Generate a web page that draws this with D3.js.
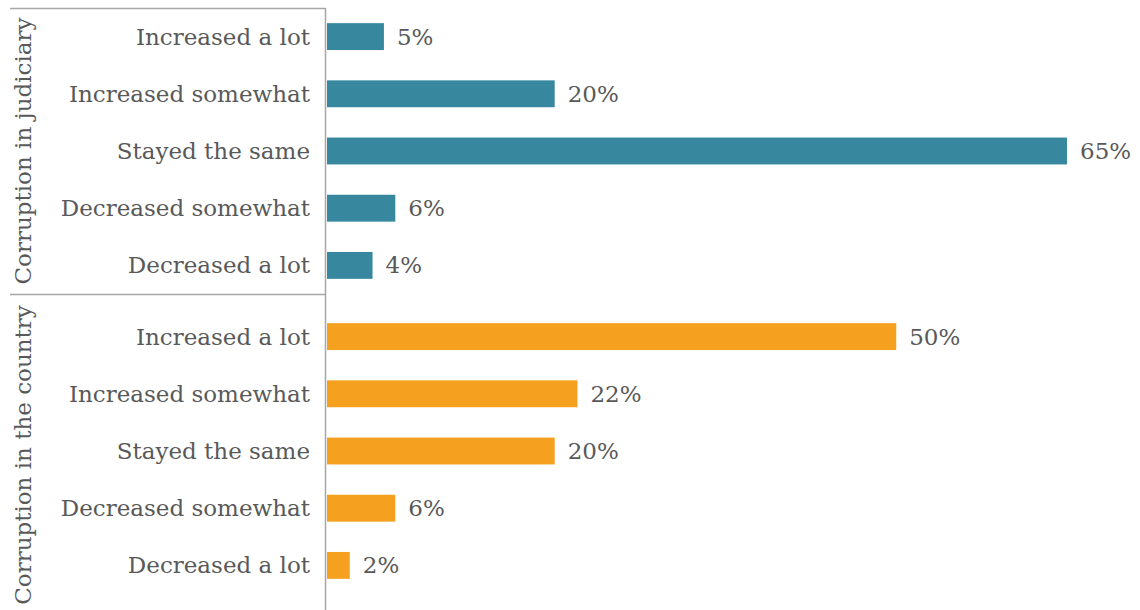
<!DOCTYPE html>
<html>
<head>
<meta charset="utf-8">
<script src="https://cdn.jsdelivr.net/npm/d3@7"></script>
<style>
  html, body { margin: 0; padding: 0; background: #fff; }
  svg text { font-family: "DejaVu Serif", serif; fill: #595959; }
</style>
</head>
<body>
<svg id="chart" width="1140" height="610"></svg>
<script>
// Response categories (same for both panels)
const categories = ["Increased a lot", "Increased somewhat", "Stayed the same", "Decreased somewhat", "Decreased a lot"];

// Panel titles
const groups = ["Corruption in judiciary", "Corruption in the country"];

// Share of respondents (%)
const judiciaryValues = [5, 20, 65, 6, 4];
const countryValues = [50, 22, 20, 6, 2];

const colors = ["#37889e", "#f5a11f"];

const svg = d3.select("#chart");

const x = d3.scaleLinear().domain([0, 65]).range([327, 1067]);

const panels = [
  { name: groups[0], values: judiciaryValues, color: colors[0], titleY: 151, bandTop: 8, bandBottom: 294 },
  { name: groups[1], values: countryValues, color: colors[1], titleY: 455, bandTop: 308, bandBottom: 594 }
];

const lineColor = "#a6a6a6";
const fontSize = 23;

panels.forEach(p => {
  const y = d3.scaleBand().domain(categories).range([p.bandTop, p.bandBottom]).paddingInner(0.53).paddingOuter(0.265);
  const g = svg.append("g");

  g.selectAll("rect").data(p.values).join("rect")
    .attr("x", x(0))
    .attr("y", (d, i) => y(categories[i]))
    .attr("width", d => x(d) - x(0))
    .attr("height", y.bandwidth())
    .attr("fill", p.color);

  // category labels
  g.selectAll("text.cat").data(categories).join("text")
    .attr("class", "cat")
    .attr("x", 310)
    .attr("y", d => y(d) + y.bandwidth() / 2)
    .attr("dy", "0.35em")
    .attr("text-anchor", "end")
    .attr("font-size", fontSize)
    .text(d => d);

  // value labels
  g.selectAll("text.val").data(p.values).join("text")
    .attr("class", "val")
    .attr("x", d => x(d) + 13)
    .attr("y", (d, i) => y(categories[i]) + y.bandwidth() / 2)
    .attr("dy", "0.35em")
    .attr("font-size", fontSize)
    .text(d => d + "%");

  // rotated panel title
  g.append("text")
    .attr("transform", `translate(31,${p.titleY}) rotate(-90)`)
    .attr("text-anchor", "middle")
    .attr("font-size", fontSize)
    .text(p.name);
});

// panel frame lines
svg.append("line").attr("x1", 10).attr("x2", 325.5).attr("y1", 8.5).attr("y2", 8.5)
  .attr("stroke", lineColor).attr("stroke-width", 1.5);
svg.append("line").attr("x1", 10).attr("x2", 325.5).attr("y1", 294.5).attr("y2", 294.5)
  .attr("stroke", lineColor).attr("stroke-width", 1.5);
svg.append("line").attr("x1", 325.5).attr("x2", 325.5).attr("y1", 8).attr("y2", 610)
  .attr("stroke", lineColor).attr("stroke-width", 1.5);
</script>
</body>
</html>
